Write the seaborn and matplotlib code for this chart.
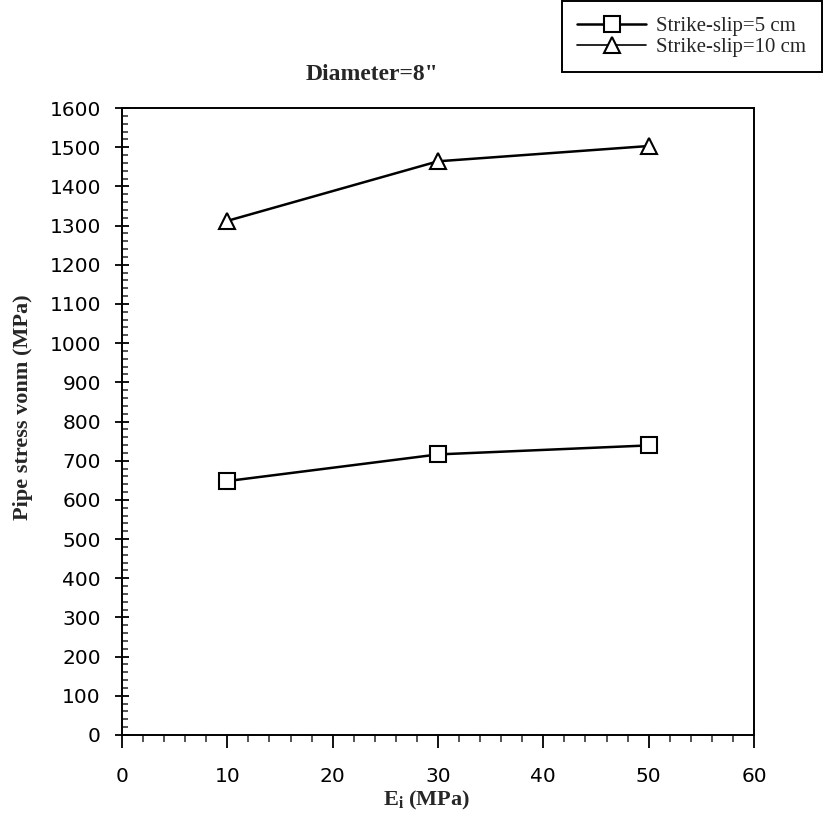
import matplotlib
matplotlib.use("Agg")
import matplotlib.pyplot as plt
from matplotlib.ticker import MultipleLocator
from matplotlib.lines import Line2D
import seaborn as sns
import pandas as pd

# Initial modulus of soil (MPa)
modulus = [10, 30, 50]
# Von Mises pipe stress (MPa) for two fault offsets
stress_5cm = [648, 716, 739]
stress_10cm = [1312, 1464, 1503]
series_names = ["Strike-slip=5 cm", "Strike-slip=10 cm"]

df = pd.DataFrame({
    "E": modulus * 2,
    "stress": stress_5cm + stress_10cm,
    "case": [series_names[0]] * 3 + [series_names[1]] * 3,
})

sns.set_theme(style="ticks")
plt.rcParams["font.family"] = ["DejaVu Sans"]

W, H = 826, 833
fig = plt.figure(figsize=(W / 100, H / 100), dpi=100)
left, right, top, bottom = 122, 754, 108, 735
ax = fig.add_axes([left / W, 1 - bottom / H, (right - left) / W, (bottom - top) / H])

sns.lineplot(
    data=df, x="E", y="stress", style="case", hue="case",
    palette=["black", "black"], markers=["s", "^"], dashes=False,
    markersize=11, markerfacecolor="white", markeredgecolor="black",
    markeredgewidth=1.5, linewidth=1.8, ax=ax, legend=False,
)

ax.set_xlim(0, 60)
ax.set_ylim(0, 1600)
ax.xaxis.set_major_locator(MultipleLocator(10))
ax.xaxis.set_minor_locator(MultipleLocator(2))
ax.yaxis.set_major_locator(MultipleLocator(100))
ax.yaxis.set_minor_locator(MultipleLocator(20))

for s in ax.spines.values():
    s.set_color("black")
    s.set_linewidth(1.4)

ax.tick_params(axis="both", which="major", labelsize=14.5, colors="black", width=1.3)
ax.tick_params(axis="x", which="major", direction="out", length=9.4, pad=14)
ax.tick_params(axis="x", which="minor", direction="out", length=5, width=1.1)
ax.tick_params(axis="y", which="major", direction="inout", length=9.5, pad=10.5)
ax.tick_params(axis="y", which="minor", direction="in", length=4, width=1.1)

serif = ["Liberation Serif", "DejaVu Serif"]
ax.set_xlabel("")
ax.set_ylabel("")
fig.text(427 / W, 1 - 800 / H, r"E$_\mathregular{i}$ (MPa)", ha="center", va="center",
         fontsize=16, fontweight="bold", family=serif)
fig.text(23 / W, 1 - 407 / H, "Pipe stress vonm (MPa)", ha="center", va="center",
         rotation=90, fontsize=16, fontweight="bold", family=serif)
fig.text(372 / W, 1 - 75 / H, 'Diameter=8"', ha="center", va="center",
         fontsize=17, fontweight="bold", family=serif)

handles = [
    Line2D([], [], color="black", lw=1.8, marker="s", markersize=11,
           markerfacecolor="white", markeredgewidth=1.5),
    Line2D([], [], color="black", lw=1.2, marker="^", markersize=11,
           markerfacecolor="white", markeredgewidth=1.5),
]
leg = fig.legend(handles, series_names, loc="upper right",
                 bbox_to_anchor=(822 / W, 1 - 1 / H), frameon=True,
                 fancybox=False, edgecolor="black", framealpha=1,
                 prop={"family": serif, "size": 15}, handlelength=3.3,
                 borderpad=0.75, labelspacing=0.05, handletextpad=0.5,
                 borderaxespad=0)
leg.get_frame().set_linewidth(1.4)

fig.savefig("out.png", dpi=100, facecolor="white")
